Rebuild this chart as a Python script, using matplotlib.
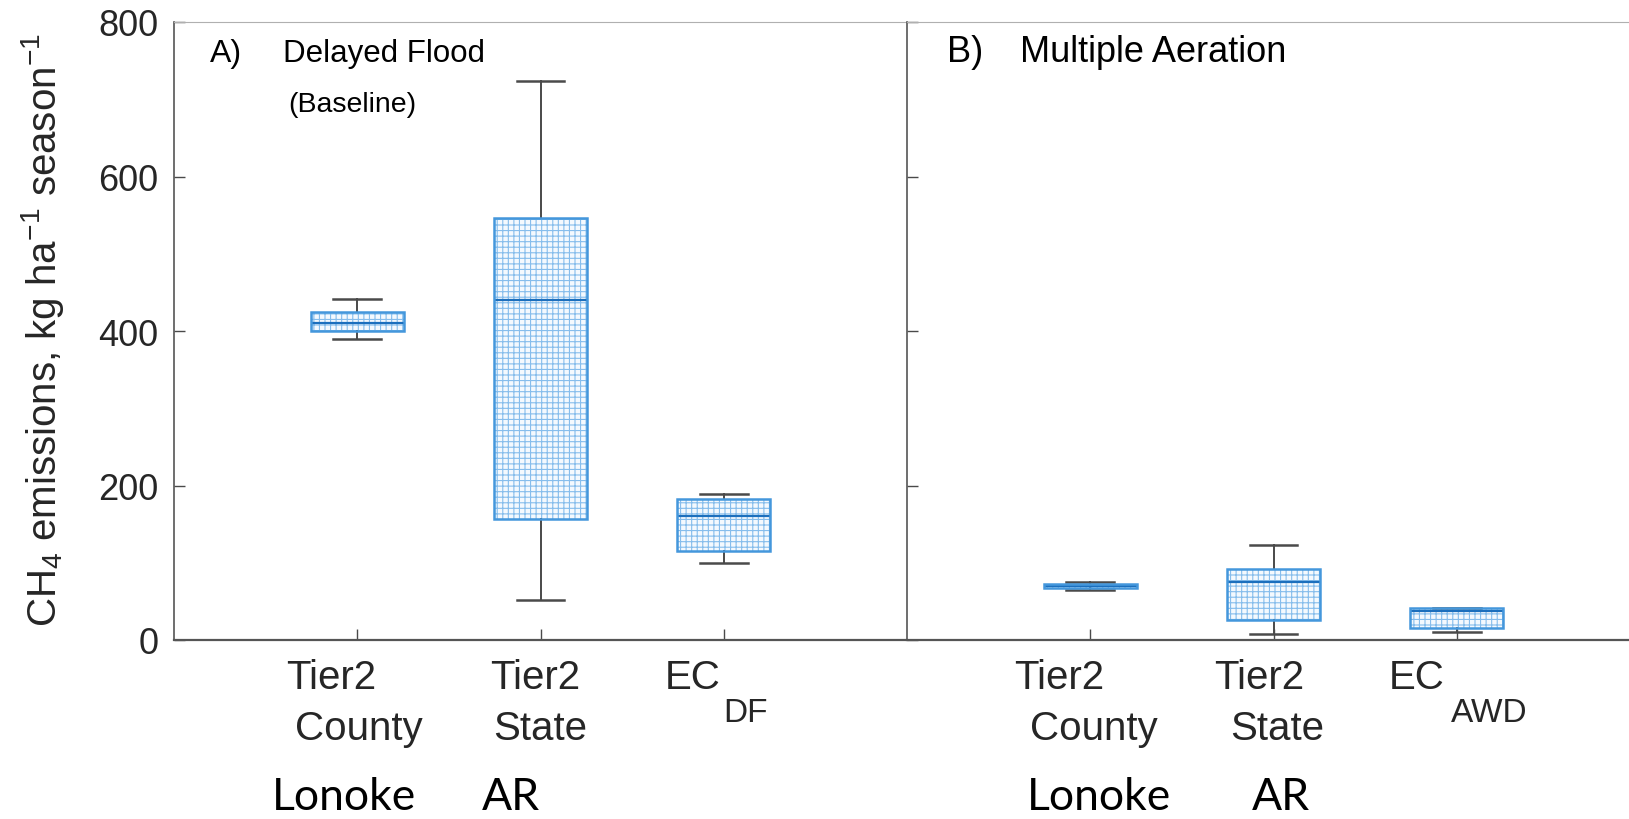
import matplotlib.pyplot as plt
from matplotlib.patches import PathPatch
import matplotlib.transforms as mtrans

plt.rcParams['font.family'] = ['Liberation Sans', 'DejaVu Sans']
plt.rcParams['mathtext.fontset'] = 'custom'
plt.rcParams['mathtext.rm'] = 'Liberation Sans'
plt.rcParams['mathtext.it'] = 'Liberation Sans'
plt.rcParams['hatch.color'] = '#86bdec'
plt.rcParams['hatch.linewidth'] = 0.8

# ---------------- datos ----------------
cat_linea1 = ["Tier2", "Tier2", "EC"]
sub_a_cat = ["", "", "DF"]
sub_b_cat = ["", "", "AWD"]
cat_linea2 = ["County", "State", ""]
region = ["Lonoke", "AR", ""]

# panel A) Delayed Flood: whislo, q1, med, q3, whishi
a_lo = [390, 52, 100]
a_q1 = [400, 157, 115]
a_med = [410, 440, 160]
a_q3 = [425, 546, 182]
a_hi = [441, 723, 189]

# panel B) Multiple Aeration
b_lo = [65, 8, 10]
b_q1 = [67, 26, 15.5]
b_med = [69.5, 75, 38]
b_q3 = [72, 92, 41]
b_hi = [75, 123, 41]

letra_a, titulo_a = "A)", "Delayed Flood"
sub_a = "(Baseline)"
letra_b, titulo_b = "B)", "Multiple Aeration"
ylab = "CH$_4$ emissions, kg ha$^{-1}$ season$^{-1}$"


def stats(lo, q1, med, q3, hi):
    return [dict(whislo=lo[i], q1=q1[i], med=med[i], q3=q3[i], whishi=hi[i], fliers=[])
            for i in range(len(lo))]


fig = plt.figure(figsize=(16.29, 8.2), dpi=100)
W, H = 1629, 820
axA = fig.add_axes([174 / W, (H - 641) / H, 733 / W, 618 / H])
axB = fig.add_axes([907 / W, (H - 641) / H, 733 / W, 618 / H])

caja = '#4497dc'
gris = '#4a4a4a'

for ax, st in [(axA, stats(a_lo, a_q1, a_med, a_q3, a_hi)),
               (axB, stats(b_lo, b_q1, b_med, b_q3, b_hi))]:
    res = ax.bxp(st, positions=[1, 2, 3], widths=0.51, patch_artist=True,
                 showfliers=False,
                 boxprops=dict(facecolor='#f4f9fe', edgecolor='#86bdec', hatch='+++', linewidth=0),
                 medianprops=dict(color='#1c6fbd', linewidth=1.6),
                 whiskerprops=dict(color=gris, linewidth=1.4),
                 capprops=dict(color=gris, linewidth=1.8), capwidths=0.26)
    for b in res['boxes']:
        ax.add_patch(PathPatch(b.get_path(), fill=False, edgecolor=caja, linewidth=1.8, zorder=3))
    ax.set_xlim(0, 4)
    ax.set_ylim(0, 800)
    ax.set_xticks([1, 2, 3])
    ax.set_xticklabels([])
    ax.set_yticks([0, 200, 400, 600, 800])
    ax.tick_params(direction='in', length=8, width=1, color=gris, labelsize=26,
                   labelcolor='#262626', pad=11)
    ax.spines['top'].set_color('#b0b0b0')
    ax.spines['left'].set_color('#555555')
    ax.spines['bottom'].set_color('#555555')
    ax.spines['right'].set_visible(False)
    ax.spines['left'].set_linewidth(1.2)
    ax.spines['bottom'].set_linewidth(1.6)

axB.set_yticklabels([])
axA.set_ylabel(ylab, fontsize=29, color='#262626')
axA.yaxis.set_label_coords(-0.148, 0.503)

# rotulos del eje x (desplazados a mano como en la figura original)
off1_a = [-0.14, -0.03, -0.32]
off_sub_a = [0, 0, 0.0]
off2_a = [0.01, 0.0, 0.0]
off3_a = [-0.07, -0.16, 0.0]
off1_b = [-0.17, -0.08, -0.37]
off_sub_b = [0, 0, -0.03]
off2_b = [0.02, 0.02, 0.0]
off3_b = [0.05, 0.04, 0.0]

for ax, subs, o1, os_, o2, o3 in [(axA, sub_a_cat, off1_a, off_sub_a, off2_a, off3_a),
                                  (axB, sub_b_cat, off1_b, off_sub_b, off2_b, off3_b)]:
    tr = mtrans.blended_transform_factory(ax.transData, ax.transAxes)
    for i in range(3):
        x = i + 1
        if subs[i]:
            ax.text(x + o1[i], -0.0777, cat_linea1[i], transform=tr, ha='left', va='baseline',
                    fontsize=29, color='#262626', clip_on=False)
            ax.text(x + os_[i], -0.131, subs[i], transform=tr, ha='left', va='baseline',
                    fontsize=24, color='#262626', clip_on=False)
        else:
            ax.text(x + o1[i], -0.0777, cat_linea1[i], transform=tr, ha='center', va='baseline',
                    fontsize=29, color='#262626', clip_on=False)
        if cat_linea2[i]:
            ax.text(x + o2[i], -0.160, cat_linea2[i], transform=tr, ha='center', va='baseline',
                    fontsize=29, color='#262626', clip_on=False)
        if region[i]:
            ax.text(x + o3[i], -0.273, region[i], transform=tr, ha='center', va='baseline',
                    fontsize=32, family='Lato', color='black', clip_on=False)

axA.text(0.049, 0.937, letra_a, transform=axA.transAxes, fontsize=23, va='baseline', ha='left')
axA.text(0.149, 0.937, titulo_a, transform=axA.transAxes, fontsize=22.5, va='baseline', ha='left')
axA.text(0.156, 0.856, sub_a, transform=axA.transAxes, fontsize=20.5, va='baseline', ha='left')
axB.text(0.055, 0.937, letra_b, transform=axB.transAxes, fontsize=26, va='baseline', ha='left')
axB.text(0.154, 0.937, titulo_b, transform=axB.transAxes, fontsize=26, va='baseline', ha='left')

fig.savefig("out.png", dpi=100)
